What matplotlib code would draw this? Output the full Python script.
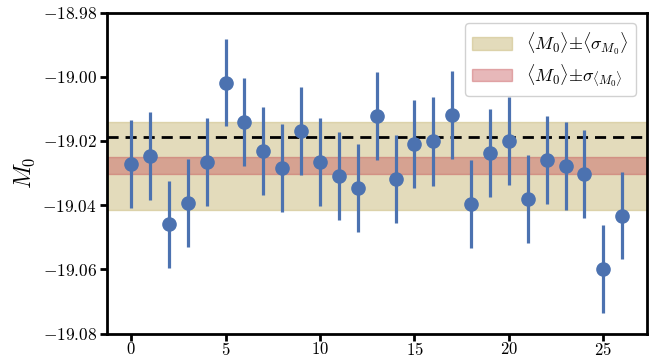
import numpy as np
import matplotlib
matplotlib.use('Agg')
import matplotlib.pyplot as plt

plt.rcParams['font.family'] = 'serif'
plt.rcParams['font.serif'] = ['cmr10']
plt.rcParams['mathtext.fontset'] = 'cm'
plt.rcParams['axes.formatter.use_mathtext'] = True

# M0 per sample, with errors
idx = np.arange(27)
m0 = [-19.0273, -19.0246, -19.0460, -19.0394, -19.0265, -19.0018, -19.0140,
      -19.0230, -19.0285, -19.0170, -19.0265, -19.0308, -19.0346, -19.0121,
      -19.0317, -19.0209, -19.0201, -19.0120, -19.0395, -19.0236, -19.0199,
      -19.0381, -19.0258, -19.0279, -19.0302, -19.0600, -19.0433]
m0_err = [0.0137, 0.0137, 0.0135, 0.0137, 0.0137, 0.0135, 0.0137,
          0.0137, 0.0137, 0.0137, 0.0137, 0.0137, 0.0138, 0.0137,
          0.0137, 0.0137, 0.0138, 0.0137, 0.0137, 0.0137, 0.0137,
          0.0137, 0.0137, 0.0137, 0.0137, 0.0137, 0.0136]
m0_ref = -19.0188        # dashed line
m0_mean = -19.0277
mean_sigma = 0.0137      # <sigma_M0>
sigma_mean = 0.0026      # sigma_<M0>

fig = plt.figure(figsize=(6.5, 3.58), dpi=100)
ax = fig.add_axes([0.164, 0.068, 0.831, 0.897])

ax.axhspan(m0_mean - mean_sigma, m0_mean + mean_sigma, color='#C8B878', alpha=0.5,
           label=r'$\langle M_0\rangle{\pm}\langle\sigma_{M_0}\rangle$', zorder=1)
ax.axhspan(m0_mean - sigma_mean, m0_mean + sigma_mean, color='#C44E52', alpha=0.4,
           label=r'$\langle M_0\rangle{\pm}\sigma_{\langle M_0\rangle}$', zorder=2)
ax.axhline(m0_ref, color='k', ls='--', lw=2, dashes=(4, 2.5), zorder=3)
ax.errorbar(idx, m0, yerr=m0_err, fmt='o', color='#4C72B0', ms=9.5,
            elinewidth=2.3, capsize=0, zorder=4)

ax.set_ylim(-19.08, -18.98)
ax.set_yticks(np.arange(-19.08, -18.979, 0.02))
ax.set_xticks([0, 5, 10, 15, 20, 25])
ax.set_ylabel(r'$M_0$', fontsize=17)
ax.tick_params(labelsize=12.5, width=2, length=5, direction='out')
ax.tick_params(axis='y', pad=2)
ax.tick_params(axis='x', pad=0, labelsize=12)
for s in ax.spines.values():
    s.set_linewidth(2)
ax.legend(loc='upper right', fontsize=13, framealpha=0.9, handlelength=2.2,
          labelspacing=0.25, borderaxespad=0.6)

fig.savefig('out.png', dpi=100)
